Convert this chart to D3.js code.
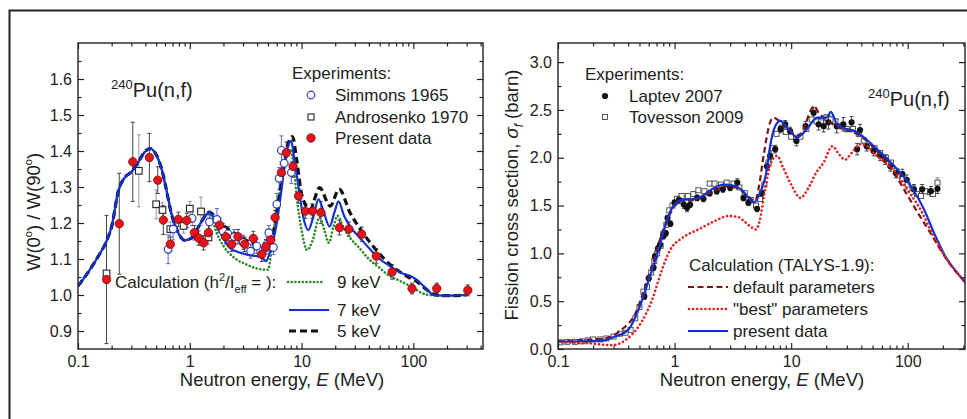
<!DOCTYPE html>
<html><head><meta charset="utf-8">
<script src="https://cdn.jsdelivr.net/npm/d3@7"></script>
<style>body{margin:0;background:#fff} text{font-family:"Liberation Sans",Arial,sans-serif;fill:#222}</style>
</head><body><svg id="c" width="967" height="419"></svg>
<script>
// ---------- LEFT PANEL DATA: W(0)/W(90) ----------
const calc9keV = [[0.1,1.025],[0.12,1.058],[0.15,1.105],[0.18,1.15],[0.2,1.19],[0.23,1.29],[0.26,1.325],[0.3,1.342],[0.34,1.365],[0.39,1.395],[0.44,1.407],[0.5,1.39],[0.56,1.35],[0.62,1.29],[0.68,1.23],[0.77,1.18],[0.9,1.152],[1.05,1.16],[1.25,1.2],[1.5,1.225],[1.75,1.17],[2.0,1.136],[2.4,1.108],[3.2,1.085],[4.4,1.071],[5.0,1.07],[5.4,1.127],[6.0,1.238],[6.6,1.32],[7.3,1.38],[8.0,1.405],[8.5,1.36],[9.0,1.28],[10,1.18],[11.2,1.125],[12.5,1.15],[14.5,1.215],[16,1.18],[17.5,1.145],[19.3,1.19],[21,1.22],[23.5,1.19],[27,1.16],[33,1.13],[40,1.10],[50,1.075],[60,1.055],[75,1.04],[100,1.02],[120,1.005],[140,1.0],[200,0.998],[300,1.0]];
const calc7keV = [[0.1,1.025],[0.12,1.058],[0.15,1.105],[0.18,1.15],[0.2,1.19],[0.23,1.29],[0.26,1.325],[0.3,1.342],[0.34,1.365],[0.39,1.395],[0.44,1.407],[0.5,1.39],[0.56,1.35],[0.62,1.29],[0.68,1.23],[0.77,1.18],[0.9,1.152],[1.05,1.16],[1.25,1.2],[1.5,1.23],[1.87,1.173],[2.3,1.13],[3.2,1.113],[4.4,1.104],[4.8,1.094],[5.2,1.118],[6.0,1.2],[6.6,1.29],[7.2,1.38],[8.07,1.428],[8.6,1.38],[9.4,1.30],[10.3,1.22],[11.5,1.18],[12.8,1.22],[14.2,1.266],[15.8,1.23],[17.8,1.19],[19.7,1.23],[21.4,1.26],[24,1.22],[27.2,1.19],[33,1.16],[41,1.127],[50,1.1],[62,1.08],[80,1.06],[94,1.053],[110,1.04],[123,1.025],[140,1.008],[151,1.0],[200,0.998],[300,1.0]];
const calc5keV = [[0.1,1.025],[0.12,1.058],[0.15,1.105],[0.18,1.15],[0.2,1.19],[0.23,1.29],[0.26,1.325],[0.3,1.342],[0.34,1.365],[0.39,1.395],[0.44,1.407],[0.5,1.39],[0.56,1.35],[0.62,1.29],[0.68,1.23],[0.77,1.18],[0.9,1.152],[1.05,1.16],[1.25,1.2],[1.5,1.23],[1.75,1.21],[2.1,1.188],[2.6,1.168],[3.4,1.148],[4.5,1.134],[5.0,1.128],[5.4,1.15],[5.8,1.2],[6.4,1.284],[7.0,1.36],[7.6,1.42],[8.3,1.44],[9.0,1.38],[10.1,1.275],[11.9,1.238],[14.5,1.298],[18,1.247],[21.7,1.294],[27,1.23],[34,1.18],[41,1.146],[55,1.1],[71,1.07],[90,1.05],[110,1.035],[130,1.016],[150,1.003],[170,0.999],[200,0.998],[300,1.0]];
// [E (MeV), ratio, error]
const simmons1965 = [[0.64,1.127,0.04],[0.71,1.183,0.03],[1.05,1.213,0.02],[1.5,1.203,0.02],[1.75,1.21,0.03],[1.98,1.178,0.02],[2.2,1.17,0.02],[2.5,1.162,0.02],[3.0,1.146,0.02],[3.5,1.122,0.02],[3.97,1.136,0.02],[4.9,1.141,0.02],[5.1,1.173,0.02],[5.6,1.132,0.02],[6.0,1.252,0.03],[6.3,1.324,0.03],[6.6,1.402,0.04],[7.0,1.366,0.03],[8.1,1.34,0.03]];
const androsenko1970 = [[0.18,1.06,0],[0.35,1.345,0.1],[0.5,1.252,0.04],[0.57,1.236,0.02],[0.67,1.183,0.02],[0.88,1.192,0.02],[1.0,1.24,0.02],[1.26,1.232,0.04],[1.47,1.16,0.02]];
const presentData = [[0.18,1.043,0.178],[0.234,1.198,0.14],[0.309,1.37,0.11],[0.435,1.382,0.067],[0.517,1.319,0.037],[0.58,1.208,0.04],[0.67,1.141,0.02],[0.79,1.21,0.02],[0.94,1.207,0.02],[1.1,1.173,0.02],[1.2,1.158,0.02],[1.33,1.145,0.02],[1.47,1.173,0.02],[1.85,1.194,0.02],[2.1,1.162,0.02],[2.37,1.141,0.02],[2.7,1.162,0.02],[3.1,1.141,0.02],[3.7,1.157,0.02],[4.4,1.113,0.02],[4.8,1.134,0.02],[5.3,1.153,0.02],[5.8,1.215,0.02],[6.6,1.34,0.03],[7.3,1.395,0.03],[8.4,1.357,0.03],[9.4,1.275,0.02],[10.8,1.233,0.02],[12.5,1.233,0.02],[14.9,1.229,0.03],[21.8,1.187,0.02],[26.5,1.183,0.02],[34.5,1.169,0.02],[46.6,1.108,0.02],[64.6,1.064,0.02],[97.3,1.018,0.015],[162,1.018,0.015],[307,1.013,0.015]];
const xTicksL = [0.1,1,10,100];
const yTicksL = [0.9,1.0,1.1,1.2,1.3,1.4,1.5,1.6];

// ---------- RIGHT PANEL DATA: fission cross section ----------
const talysPresent = [[0.1,0.077],[0.15,0.08],[0.24,0.087],[0.3,0.125],[0.4,0.2],[0.49,0.41],[0.6,0.72],[0.73,1.04],[0.83,1.28],[0.95,1.476],[1.16,1.56],[1.5,1.57],[1.72,1.6],[2.2,1.686],[2.6,1.72],[3.2,1.71],[3.8,1.66],[4.4,1.57],[4.8,1.53],[5.4,1.63],[6.2,1.88],[6.6,2.12],[7.3,2.33],[8.1,2.385],[9.0,2.33],[9.8,2.28],[11.3,2.21],[12.5,2.25],[13.7,2.30],[15.5,2.39],[16.7,2.42],[20.2,2.42],[21.9,2.48],[24.7,2.35],[30,2.30],[35,2.28],[39,2.245],[54.6,2.088],[76.6,1.913],[106.5,1.70],[138,1.46],[168,1.214],[218,0.934],[267,0.794],[310,0.70]];
const talysDefault = [[0.1,0.08],[0.2,0.1],[0.25,0.11],[0.35,0.2],[0.46,0.37],[0.56,0.65],[0.68,0.97],[0.8,1.25],[0.92,1.42],[1.08,1.55],[1.5,1.56],[2,1.63],[2.8,1.7],[3.5,1.68],[4.2,1.6],[4.9,1.55],[5.3,1.7],[5.8,2.02],[6.6,2.37],[7.0,2.42],[7.6,2.40],[9.2,2.32],[11.3,2.23],[13,2.32],[14.5,2.48],[15.8,2.54],[17,2.48],[19,2.42],[24.6,2.33],[30,2.29],[39,2.23],[54.6,2.07],[76.6,1.84],[98,1.62],[120,1.44],[157,1.21],[218,0.93],[267,0.79],[310,0.70]];
const talysBest = [[0.1,0.07],[0.18,0.06],[0.29,0.04],[0.38,0.094],[0.49,0.234],[0.64,0.51],[0.78,0.83],[0.92,1.04],[1.16,1.16],[1.6,1.25],[2.2,1.336],[2.9,1.39],[3.5,1.38],[4.0,1.33],[4.6,1.27],[5.0,1.25],[5.4,1.35],[5.9,1.63],[6.9,1.98],[7.6,2.02],[8.5,1.9],[10,1.72],[12,1.58],[14,1.68],[16.5,1.85],[19,1.95],[22.5,2.12],[26,2.03],[29,1.98],[33,2.05],[39,2.14],[45,2.12],[51,2.05],[60,1.98],[76,1.87],[100,1.66],[130,1.45],[160,1.22],[218,0.934],[267,0.794],[310,0.70]];
// [E, sigma, error]
const laptev2007 = [[0.55,0.55,0.03],[0.6,0.74,0.03],[0.66,0.85,0.03],[0.68,0.97,0.03],[0.72,1.05,0.03],[0.75,1.09,0.03],[0.8,1.18,0.03],[0.84,1.21,0.03],[0.87,1.37,0.03],[0.92,1.31,0.03],[1.0,1.53,0.03],[1.09,1.56,0.04],[1.2,1.51,0.04],[1.28,1.476,0.04],[1.36,1.51,0.03],[1.56,1.58,0.03],[1.77,1.57,0.03],[2.0,1.63,0.03],[2.3,1.65,0.03],[2.6,1.67,0.03],[3.0,1.686,0.03],[3.45,1.74,0.04],[3.9,1.58,0.03],[4.3,1.53,0.03],[5.1,1.466,0.03],[5.6,1.63,0.03],[6.2,1.91,0.04],[6.6,2.02,0.04],[7.3,2.09,0.04],[8.1,2.3,0.04],[8.9,2.35,0.04],[9.8,2.28,0.04],[11.1,2.175,0.05],[13.3,2.33,0.05],[15.6,2.47,0.06],[17.2,2.35,0.06],[19,2.33,0.06],[20.9,2.37,0.07],[24.6,2.33,0.07],[28,2.35,0.07],[33,2.37,0.06],[36.8,2.09,0.06],[39,2.29,0.06],[44.5,2.12,0.05],[51,2.07,0.05],[58,2.02,0.05],[64,1.98,0.05],[71,1.91,0.05],[79,1.84,0.05],[90,1.83,0.05],[98,1.77,0.05],[113,1.67,0.05],[133,1.67,0.05],[158,1.65,0.05],[180,1.676,0.05]];
const tovesson2009 = [[0.105,0.07,0],[0.12,0.075,0],[0.14,0.075,0],[0.16,0.08,0],[0.18,0.09,0],[0.2,0.1,0],[0.23,0.1,0],[0.26,0.11,0],[0.3,0.13,0],[0.34,0.16,0],[0.38,0.17,0],[0.42,0.2,0],[0.46,0.32,0],[0.5,0.44,0],[0.54,0.6,0],[0.58,0.65,0],[0.63,0.8,0],[0.67,0.92,0],[0.71,1.0,0],[0.76,1.08,0],[0.8,1.2,0],[0.85,1.3,0],[0.9,1.45,0],[0.96,1.5,0],[1.05,1.57,0],[1.15,1.6,0],[1.3,1.6,0],[1.45,1.62,0],[1.6,1.66,0],[1.8,1.65,0],[2.0,1.73,0],[2.2,1.73,0],[2.5,1.72,0],[2.8,1.74,0],[3.2,1.73,0],[3.6,1.69,0],[4.0,1.63,0],[4.5,1.56,0],[5.0,1.5,0],[5.4,1.57,0],[5.9,1.72,0],[6.4,1.95,0],[6.9,2.1,0],[7.5,2.25,0],[8.2,2.3,0],[9.0,2.27,0],[10,2.22,0],[11,2.2,0],[12,2.22,0],[13.5,2.3,0],[15,2.4,0],[16.5,2.38,0],[18,2.37,0],[20,2.42,0.03],[22,2.4,0.03],[24,2.38,0.03],[27,2.33,0.03],[30,2.3,0.03],[34,2.3,0.03],[38,2.25,0.03],[42,2.18,0.03],[47,2.12,0],[52,2.1,0],[58,2.05,0],[65,2.0,0.03],[72,1.95,0],[80,1.86,0],[90,1.78,0],[100,1.72,0],[110,1.68,0],[120,1.62,0],[130,1.6,0],[142,1.65,0],[155,1.64,0],[165,1.62,0],[180,1.74,0.05]];
const xTicksR = [0.1,1,10,100];
const yTicksR = [0.0,0.5,1.0,1.5,2.0,2.5,3.0];

// ---------- DRAWING ----------
const svg = d3.select("#c");
svg.append("rect").attr("x",9.5).attr("y",10.5).attr("width",1000).attr("height",500)
  .attr("fill","none").attr("stroke","#222").attr("stroke-width",2);

function minorsLog(lo, hi){const m=[];for(let d=0.1;d<hi;d*=10){for(let k=2;k<10;k++){const v=+(d*k).toPrecision(3);if(v>lo&&v<hi)m.push(v);}}return m;}
function fmtX(d){return d<1?"0.1":String(d);}

function axes(g, x, y, box, xMaj, yMaj, yMin, yFmt){
  const [l,r,t,b]=box;
  const xMin = minorsLog(x.domain()[0], x.domain()[1]);
  const style = s => { s.select(".domain").remove(); s.selectAll("line").attr("stroke","#222").attr("stroke-width",1.2);
    s.selectAll("text").style("font-size","16px").style("fill","#222").attr("font-family","Liberation Sans, Arial, sans-serif"); };
  g.append("g").attr("transform",`translate(0,${b})`).call(d3.axisBottom(x).tickValues(xMaj).tickSize(-6).tickPadding(7).tickFormat(fmtX)).call(style);
  g.append("g").attr("transform",`translate(0,${b})`).call(d3.axisBottom(x).tickValues(xMin).tickSize(-3.5).tickFormat("")).call(style);
  g.append("g").attr("transform",`translate(0,${t})`).call(d3.axisTop(x).tickValues(xMaj).tickSize(-6).tickFormat("")).call(style);
  g.append("g").attr("transform",`translate(0,${t})`).call(d3.axisTop(x).tickValues(xMin).tickSize(-3.5).tickFormat("")).call(style);
  g.append("g").attr("transform",`translate(${l},0)`).call(d3.axisLeft(y).tickValues(yMaj).tickSize(-6).tickPadding(6).tickFormat(yFmt)).call(style);
  g.append("g").attr("transform",`translate(${l},0)`).call(d3.axisLeft(y).tickValues(yMin).tickSize(-3.5).tickFormat("")).call(style);
  g.append("g").attr("transform",`translate(${r},0)`).call(d3.axisRight(y).tickValues(yMaj).tickSize(-6).tickFormat("")).call(style);
  g.append("g").attr("transform",`translate(${r},0)`).call(d3.axisRight(y).tickValues(yMin).tickSize(-3.5).tickFormat("")).call(style);
  g.append("rect").attr("x",l).attr("y",t).attr("width",r-l).attr("height",b-t).attr("fill","none").attr("stroke","#222").attr("stroke-width",1.4);
}

function errBars(g, data, x, y, color, w){
  const s = g.append("g").attr("stroke",color).attr("stroke-width",w||1);
  data.filter(d=>d[2]>0).forEach(d=>{
    const X=x(d[0]), y1=y(d[1]-d[2]), y2=y(d[1]+d[2]);
    s.append("line").attr("x1",X).attr("x2",X).attr("y1",y1).attr("y2",y2);
    s.append("line").attr("x1",X-2).attr("x2",X+2).attr("y1",y1).attr("y2",y1);
    s.append("line").attr("x1",X-2).attr("x2",X+2).attr("y1",y2).attr("y2",y2);
  });
}
function curve(g, data, x, y, color, width, dash, cap){
  const line = d3.line().x(d=>x(d[0])).y(d=>y(d[1])).curve(d3.curveMonotoneX);
  g.append("path").datum(data).attr("d",line).attr("fill","none").attr("stroke",color)
   .attr("stroke-width",width).attr("stroke-dasharray",dash||null).attr("stroke-linecap",cap||"butt");
}
function supText(g, x, y, size, sup, main){
  const t=g.append("text").attr("x",x).attr("y",y).style("font-size",size+"px");
  t.append("tspan").text(sup).style("font-size",(size*0.65)+"px").attr("dy",-size*0.4);
  t.append("tspan").text(main).attr("dy",size*0.4);
}
function xTitle(g, cx){
  const t=g.append("text").attr("x",cx).attr("y",386).attr("text-anchor","middle").style("font-size","18.5px");
  t.append("tspan").text("Neutron energy, ");
  t.append("tspan").text("E").style("font-style","italic");
  t.append("tspan").text(" (MeV)");
}

// ===== Left panel =====
const boxL=[78,483,43,349];
const xL=d3.scaleLog().domain([0.1,420]).range([boxL[0],boxL[1]]);
const yL=d3.scaleLinear().domain([0.85,1.7]).range([boxL[3],boxL[2]]);
const gL=svg.append("g");
svg.append("clipPath").attr("id","clipL").append("rect").attr("x",boxL[0]).attr("y",boxL[2]).attr("width",boxL[1]-boxL[0]).attr("height",boxL[3]-boxL[2]);
const cL=gL.append("g").attr("clip-path","url(#clipL)");
errBars(cL, androsenko1970, xL, yL, "#999", 1);
errBars(cL, simmons1965, xL, yL, "#5a68c8", 1);
errBars(cL, presentData, xL, yL, "#444", 1);
curve(cL, calc9keV, xL, yL, "#2a8a2a", 2.6, "0.1,3.6", "round");
curve(cL, calc5keV, xL, yL, "#111", 3.2, "7,4");
curve(cL, calc7keV, xL, yL, "#1530d0", 2.2);
cL.selectAll(".and").data(androsenko1970).join("rect").attr("x",d=>xL(d[0])-3.3).attr("y",d=>yL(d[1])-3.3).attr("width",6.6).attr("height",6.6).attr("fill","#fff").attr("stroke","#222").attr("stroke-width",1.1);
cL.selectAll(".sim").data(simmons1965).join("circle").attr("cx",d=>xL(d[0])).attr("cy",d=>yL(d[1])).attr("r",3.8).attr("fill","#fff").attr("stroke","#2c3cc0").attr("stroke-width",1.2);
cL.selectAll(".pre").data(presentData).join("circle").attr("cx",d=>xL(d[0])).attr("cy",d=>yL(d[1])).attr("r",4.2).attr("fill","#e5141c").attr("stroke","#7a0a0a").attr("stroke-width",0.8);
axes(gL, xL, yL, boxL, xTicksL, yTicksL, [0.95,1.05,1.15,1.25,1.35,1.45,1.55,1.65], d3.format(".1f"));
xTitle(gL, 282);
{const t=gL.append("text").attr("transform","translate(40,212) rotate(-90)").attr("text-anchor","middle").style("font-size","18.5px");
 t.append("tspan").text("W(0"); t.append("tspan").text("o").style("font-size","11px").attr("dy",-8);
 t.append("tspan").text(") / W(90").attr("dy",8); t.append("tspan").text("o").style("font-size","11px").attr("dy",-8);
 t.append("tspan").text(")").attr("dy",8);}
supText(gL, 111, 97, 20, "240", "Pu(n,f)");
gL.append("text").attr("x",292).attr("y",79).style("font-size","17px").text("Experiments:");
gL.append("circle").attr("cx",311).attr("cy",95).attr("r",3.8).attr("fill","#fff").attr("stroke","#2c3cc0").attr("stroke-width",1.2);
gL.append("text").attr("x",335).attr("y",101).style("font-size","17px").text("Simmons 1965");
gL.append("rect").attr("x",308).attr("y",114).attr("width",6).attr("height",6).attr("fill","#fff").attr("stroke","#222").attr("stroke-width",1.1);
gL.append("text").attr("x",335).attr("y",123).style("font-size","17px").text("Androsenko 1970");
gL.append("circle").attr("cx",311).attr("cy",138).attr("r",4.2).attr("fill","#e5141c").attr("stroke","#7a0a0a").attr("stroke-width",0.8);
gL.append("text").attr("x",335).attr("y",144).style("font-size","17px").text("Present data");
{const t=gL.append("text").attr("x",115).attr("y",288).style("font-size","17px");
 t.append("tspan").text("Calculation (h"); t.append("tspan").text("2").style("font-size","11px").attr("dy",-7);
 t.append("tspan").text("/I").attr("dy",7); t.append("tspan").text("eff").style("font-size","11px").attr("dy",5);
 t.append("tspan").text(" = ):").attr("dy",-5);}
gL.append("line").attr("x1",288).attr("x2",323).attr("y1",282).attr("y2",282).attr("stroke","#2a8a2a").attr("stroke-width",2.6).attr("stroke-dasharray","0.1,3.6").attr("stroke-linecap","round");
gL.append("text").attr("x",337).attr("y",288).style("font-size","17px").text("9 keV");
gL.append("line").attr("x1",289).attr("x2",329).attr("y1",310).attr("y2",310).attr("stroke","#1530d0").attr("stroke-width",2.2);
gL.append("text").attr("x",337).attr("y",316).style("font-size","17px").text("7 keV");
gL.append("line").attr("x1",289).attr("x2",322).attr("y1",331).attr("y2",331).attr("stroke","#111").attr("stroke-width",3.2).attr("stroke-dasharray","7,4");
gL.append("text").attr("x",337).attr("y",337).style("font-size","17px").text("5 keV");

// ===== Right panel =====
const boxR=[558,965,43,349];
const xR=d3.scaleLog().domain([0.1,310]).range([boxR[0],boxR[1]]);
const yR=d3.scaleLinear().domain([0,3.2]).range([boxR[3],boxR[2]]);
const gR=svg.append("g");
svg.append("clipPath").attr("id","clipR").append("rect").attr("x",boxR[0]).attr("y",boxR[2]).attr("width",boxR[1]-boxR[0]).attr("height",boxR[3]-boxR[2]);
const cR=gR.append("g").attr("clip-path","url(#clipR)");
errBars(cR, tovesson2009, xR, yR, "#777", 0.9);
errBars(cR, laptev2007, xR, yR, "#333", 0.9);
cR.selectAll(".tov").data(tovesson2009).join("rect").attr("x",d=>xR(d[0])-2.5).attr("y",d=>yR(d[1])-2.5).attr("width",5).attr("height",5).attr("fill","#fff").attr("stroke","#444").attr("stroke-width",0.9);
cR.selectAll(".lap").data(laptev2007).join("circle").attr("cx",d=>xR(d[0])).attr("cy",d=>yR(d[1])).attr("r",3.1).attr("fill","#111");
curve(cR, talysDefault, xR, yR, "#7a1515", 2.2, "6,3.5");
curve(cR, talysPresent, xR, yR, "#1530d0", 2.2);
curve(cR, talysBest, xR, yR, "#e02020", 2.6, "0.1,4", "round");
axes(gR, xR, yR, boxR, xTicksR, yTicksR, [0.25,0.75,1.25,1.75,2.25,2.75], d3.format(".1f"));
xTitle(gR, 762);
{const t=gR.append("text").attr("transform","translate(518,195) rotate(-90)").attr("text-anchor","middle").style("font-size","18.5px");
 t.append("tspan").text("Fission cross section, ");
 t.append("tspan").text("σ").style("font-style","italic");
 t.append("tspan").text("f").style("font-style","italic").style("font-size","12px").attr("dy",5);
 t.append("tspan").text(" (barn)").attr("dy",-5);}
supText(gR, 868, 106, 20, "240", "Pu(n,f)");
gR.append("text").attr("x",585).attr("y",80).style("font-size","17px").text("Experiments:");
gR.append("circle").attr("cx",605).attr("cy",96).attr("r",3.1).attr("fill","#111");
gR.append("text").attr("x",629).attr("y",102).style("font-size","17px").text("Laptev 2007");
gR.append("rect").attr("x",602.5).attr("y",114.5).attr("width",5).attr("height",5).attr("fill","#fff").attr("stroke","#444").attr("stroke-width",0.9);
gR.append("text").attr("x",629).attr("y",123).style("font-size","17px").text("Tovesson 2009");
gR.append("text").attr("x",689).attr("y",271).style("font-size","17px").text("Calculation (TALYS-1.9):");
gR.append("line").attr("x1",688).attr("x2",728).attr("y1",287).attr("y2",287).attr("stroke","#7a1515").attr("stroke-width",2.2).attr("stroke-dasharray","6,3.5");
gR.append("text").attr("x",733).attr("y",293).style("font-size","17px").text("default parameters");
gR.append("line").attr("x1",689).attr("x2",727).attr("y1",309).attr("y2",309).attr("stroke","#e02020").attr("stroke-width",2.6).attr("stroke-dasharray","0.1,4").attr("stroke-linecap","round");
gR.append("text").attr("x",733).attr("y",315).style("font-size","17px").text("\"best\" parameters");
gR.append("line").attr("x1",688).attr("x2",728).attr("y1",331).attr("y2",331).attr("stroke","#1530d0").attr("stroke-width",2.2);
gR.append("text").attr("x",733).attr("y",337).style("font-size","17px").text("present data");
</script></body></html>
